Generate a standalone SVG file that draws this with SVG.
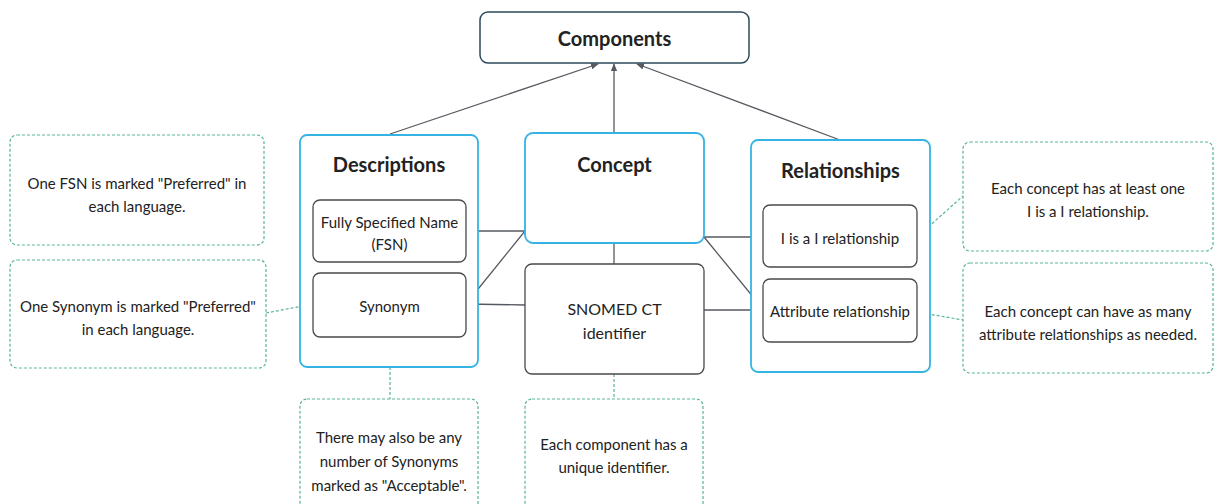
<svg xmlns="http://www.w3.org/2000/svg" width="1215" height="504" viewBox="0 0 1215 504">
<style>
text{font-family:Lato,"Noto Sans",sans-serif;fill:#222;text-anchor:middle;dominant-baseline:central}
.t{font-size:20px;font-weight:bold}
.s{font-size:15px}
.m{font-size:16px}
.top{fill:#fff;stroke:#2d4a5a;stroke-width:1.5}
.blue{fill:#fff;stroke:#35b3e3;stroke-width:1.8}
.gray{fill:#fff;stroke:#4a4a4a;stroke-width:1.3}
.note{fill:#fff;stroke:#5bb597;stroke-width:1.2;stroke-dasharray:3 2}
.ln{stroke:#555a60;stroke-width:1.3;fill:none}
.dl{stroke:#5bb597;stroke-width:1.2;fill:none;stroke-dasharray:3 2}
</style>
<defs>
<marker id="ah" viewBox="0 0 10 10" refX="9" refY="5" markerWidth="6" markerHeight="6" orient="auto-start-reverse">
<path d="M0,1 L10,5 L0,9 z" fill="#555a60"/>
</marker>
</defs>
<rect width="1215" height="504" fill="#fff"/>
<g id="connectors">
<line class="ln" x1="390" y1="134" x2="598" y2="64" marker-end="url(#ah)"/>
<line class="ln" x1="614" y1="133" x2="614" y2="64" marker-end="url(#ah)"/>
<line class="ln" x1="840" y1="140" x2="637" y2="64" marker-end="url(#ah)"/>
<line class="ln" x1="466" y1="231" x2="525" y2="231"/>
<line class="ln" x1="466" y1="304" x2="525" y2="231"/>
<line class="ln" x1="466" y1="304" x2="525" y2="305"/>
<line class="ln" x1="614" y1="243" x2="614" y2="264"/>
<line class="ln" x1="704" y1="237" x2="763" y2="237"/>
<line class="ln" x1="704" y1="237" x2="763" y2="309"/>
<line class="ln" x1="704" y1="310" x2="763" y2="310"/>
<line class="dl" x1="266" y1="313" x2="313" y2="304"/>
<line class="dl" x1="390" y1="337" x2="390" y2="399"/>
<line class="dl" x1="614" y1="374" x2="614" y2="399"/>
<line class="dl" x1="917" y1="237" x2="963" y2="196"/>
<line class="dl" x1="917" y1="312" x2="963" y2="320"/>
</g>
<g id="components"><rect class="top" x="480" y="12" width="269" height="51" rx="8"/><text class="t" x="614.5" y="38">Components</text></g>
<g id="descriptions"><rect class="blue" x="300" y="135" width="178" height="232" rx="7"/><text class="t" x="389" y="164">Descriptions</text></g>
<g id="fsn"><rect class="gray" x="313" y="200" width="153" height="62" rx="7"/><text class="s" x="389.5" y="222">Fully Specified Name</text><text class="s" x="389.5" y="244">(FSN)</text></g>
<g id="synonym"><rect class="gray" x="313" y="273" width="153" height="64" rx="7"/><text class="s" x="389.5" y="306">Synonym</text></g>
<g id="concept"><rect class="blue" x="525" y="133" width="179" height="110" rx="8"/><text class="t" x="614.5" y="164">Concept</text></g>
<g id="snomed"><rect class="gray" x="525" y="264" width="179" height="110" rx="7"/><text class="m" x="614.5" y="308">SNOMED CT</text><text class="m" x="614.5" y="332">identifier</text></g>
<g id="relationships"><rect class="blue" x="751" y="140" width="179" height="232" rx="7"/><text class="t" x="840.5" y="170">Relationships</text></g>
<g id="isa"><rect class="gray" x="763" y="205" width="154" height="62" rx="7"/><text class="s" x="840" y="238">I is a I relationship</text></g>
<g id="attribute"><rect class="gray" x="763" y="279" width="154" height="63" rx="7"/><text class="s" x="840" y="311">Attribute relationship</text></g>
<g id="note-fsn"><rect class="note" x="10" y="135" width="254" height="110" rx="7"/><text class="s" x="137" y="183">One FSN is marked "Preferred" in</text><text class="s" x="137" y="206">each language.</text></g>
<g id="note-syn"><rect class="note" x="10" y="260" width="256" height="108" rx="7"/><text class="s" x="138" y="306">One Synonym is marked "Preferred"</text><text class="s" x="138" y="329">in each language.</text></g>
<g id="note-isa"><rect class="note" x="963" y="142" width="250" height="109" rx="7"/><text class="s" x="1088" y="188">Each concept has at least one</text><text class="s" x="1088" y="211">I is a I relationship.</text></g>
<g id="note-attr"><rect class="note" x="963" y="263" width="250" height="110" rx="7"/><text class="s" x="1088" y="311">Each concept can have as many</text><text class="s" x="1088" y="334">attribute relationships as needed.</text></g>
<g id="note-acc"><rect class="note" x="300" y="399" width="178" height="120" rx="7"/><text class="s" x="389" y="437">There may also be any</text><text class="s" x="389" y="461">number of Synonyms</text><text class="s" x="389" y="485">marked as "Acceptable".</text></g>
<g id="note-id"><rect class="note" x="525" y="399" width="178" height="120" rx="7"/><text class="s" x="614" y="444">Each component has a</text><text class="s" x="614" y="467">unique identifier.</text></g>
</svg>
